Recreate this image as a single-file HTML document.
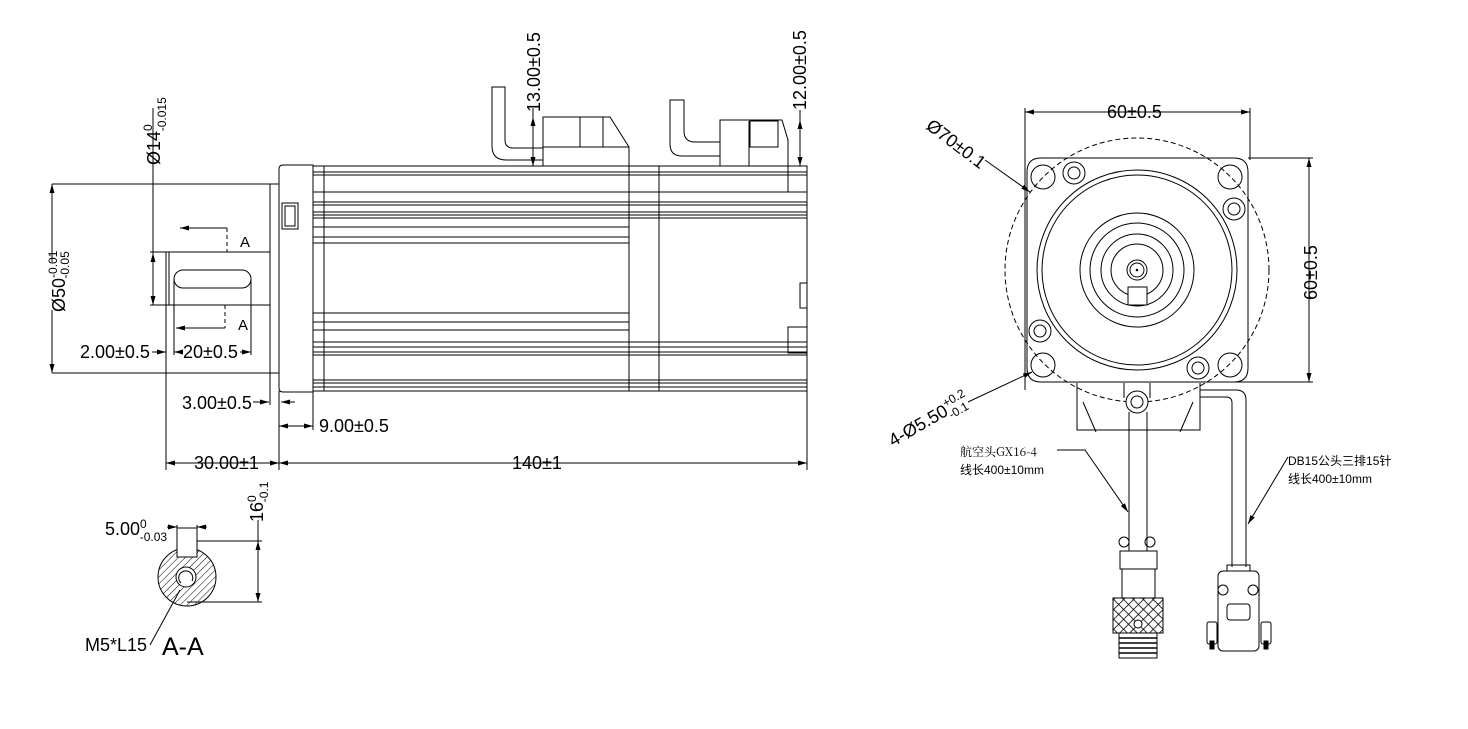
<!DOCTYPE html>
<html><head><meta charset="utf-8"><style>
html,body{margin:0;padding:0;background:#fff;}
svg{display:block;}
text{font-family:"Liberation Sans","Noto Sans CJK SC",sans-serif;fill:#000;}
.cn{font-family:"Noto Serif CJK SC","Liberation Serif",serif;}
</style></head><body>
<svg width="1468" height="729" viewBox="0 0 1468 729" xmlns="http://www.w3.org/2000/svg">
<defs>
<marker id="ar" markerWidth="9" markerHeight="5" refX="9" refY="2.5" orient="auto-start-reverse" markerUnits="userSpaceOnUse"><path d="M0,0 L9,2.5 L0,5 z" fill="#000"/></marker>
<pattern id="hatch" width="5" height="5" patternUnits="userSpaceOnUse" patternTransform="rotate(45)"><line x1="0" y1="0" x2="0" y2="5" stroke="#000" stroke-width="1"/></pattern>
<pattern id="knurl" width="7" height="7" patternUnits="userSpaceOnUse" patternTransform="rotate(45)"><rect width="7" height="7" fill="#fff"/><line x1="0" y1="0" x2="0" y2="7" stroke="#000" stroke-width="1.6"/><line x1="0" y1="0" x2="7" y2="0" stroke="#000" stroke-width="1.6"/></pattern>
</defs>
<g fill="none" stroke="#000" stroke-width="1">
<path d="M283,165 H313 V392 H283 Q279,392 279,388 V169 Q279,165 283,165 Z"/>
<rect x="282" y="203" width="16" height="26"/><rect x="285" y="206" width="10" height="20"/>
<line x1="324" y1="166" x2="324" y2="391"/>
<rect x="313" y="166" width="494" height="225"/>
<line x1="629" y1="166" x2="629" y2="391"/><line x1="659" y1="166" x2="659" y2="391"/>
<g stroke-width="0.9">
<line x1="313" y1="172" x2="807" y2="172"/><line x1="313" y1="175" x2="807" y2="175"/>
<line x1="313" y1="192" x2="807" y2="192"/><line x1="313" y1="202" x2="807" y2="202"/>
<line x1="313" y1="205" x2="807" y2="205"/><line x1="313" y1="212" x2="807" y2="212"/>
<line x1="313" y1="215" x2="807" y2="215"/><line x1="313" y1="218" x2="807" y2="218"/>
<line x1="313" y1="227" x2="629" y2="227"/><line x1="313" y1="237" x2="629" y2="237"/>
<line x1="313" y1="243" x2="629" y2="243"/>
<line x1="313" y1="313" x2="629" y2="313"/><line x1="313" y1="322" x2="629" y2="322"/>
<line x1="313" y1="330" x2="629" y2="330"/><line x1="313" y1="342" x2="807" y2="342"/>
<line x1="313" y1="347" x2="807" y2="347"/><line x1="313" y1="352" x2="807" y2="352"/>
<line x1="313" y1="355" x2="807" y2="355"/><line x1="313" y1="380" x2="807" y2="380"/>
<line x1="313" y1="383" x2="807" y2="383"/><line x1="313" y1="387" x2="807" y2="387"/>
</g>
<rect x="788" y="166" width="19" height="26"/><rect x="788" y="327" width="19" height="26"/>
<rect x="800" y="283" width="7" height="25"/>
<path d="M492,87 H505 V140 Q505,148 513,148 H543 V160 H506 Q492,160 492,146 Z"/>
<path d="M543,117 H610 L629,147 V166 H543 Z"/>
<line x1="543" y1="147" x2="629" y2="147"/><line x1="580" y1="117" x2="580" y2="147"/><line x1="603" y1="117" x2="603" y2="147"/>
<path d="M670,100 H684 V131 Q684,142 695,142 H720 V156 H682 Q670,156 670,144 Z"/>
<path d="M720,120 H782 L788,140 V166 H720 Z"/>
<line x1="720" y1="129" x2="720" y2="166"/><rect x="750" y="121" width="28" height="26"/><line x1="749" y1="121" x2="749" y2="166"/>
<line x1="52" y1="184" x2="279" y2="184"/><line x1="52" y1="373" x2="279" y2="373"/>
<line x1="270" y1="184" x2="270" y2="405"/>
<line x1="150" y1="252" x2="270" y2="252"/><line x1="150" y1="305" x2="270" y2="305"/>
<line x1="166" y1="252" x2="166" y2="470"/><line x1="169" y1="252" x2="169" y2="305"/>
<rect x="174" y="270" width="77" height="18" rx="9"/>
<line x1="174" y1="279" x2="174" y2="355"/><line x1="251" y1="279" x2="251" y2="355"/>
<path d="M227,228 V252" stroke-dasharray="4,3"/><line x1="227" y1="228" x2="180" y2="228" marker-end="url(#ar)"/>
<path d="M225,305 V328" stroke-dasharray="4,3"/><line x1="225" y1="328" x2="176" y2="328" marker-end="url(#ar)"/>
<line x1="153" y1="108" x2="153" y2="305"/>
<line x1="153" y1="262" x2="153" y2="253" marker-end="url(#ar)"/><line x1="153" y1="296" x2="153" y2="305" marker-end="url(#ar)"/>
<line x1="52" y1="262" x2="52" y2="184" marker-end="url(#ar)"/><line x1="52" y1="310" x2="52" y2="373" marker-end="url(#ar)"/>
<line x1="152" y1="352" x2="166" y2="352" marker-end="url(#ar)"/><line x1="183" y1="352" x2="174" y2="352" marker-end="url(#ar)"/>
<line x1="240" y1="352" x2="251" y2="352" marker-end="url(#ar)"/>
<line x1="253" y1="402" x2="269" y2="402" marker-end="url(#ar)"/><line x1="295" y1="402" x2="281" y2="402" marker-end="url(#ar)"/>
<line x1="279" y1="391" x2="279" y2="470"/><line x1="313" y1="391" x2="313" y2="430"/><line x1="807" y1="391" x2="807" y2="470"/>
<line x1="279" y1="426" x2="313" y2="426" marker-start="url(#ar)" marker-end="url(#ar)"/>
<line x1="166" y1="463" x2="279" y2="463" marker-start="url(#ar)" marker-end="url(#ar)"/>
<line x1="279" y1="463" x2="807" y2="463" marker-start="url(#ar)" marker-end="url(#ar)"/>
<line x1="533" y1="108" x2="533" y2="166"/><line x1="533" y1="117" x2="533" y2="128" marker-start="url(#ar)"/><line x1="533" y1="155" x2="533" y2="166" marker-end="url(#ar)"/>
<line x1="800" y1="110" x2="800" y2="166"/><line x1="800" y1="120" x2="800" y2="131" marker-start="url(#ar)"/><line x1="800" y1="155" x2="800" y2="166" marker-end="url(#ar)"/>
<circle cx="187" cy="577" r="29" fill="url(#hatch)"/>
<rect x="177" y="528" width="20" height="29" fill="#fff"/>
<circle cx="186" cy="577" r="10" fill="#fff"/><path d="M181,583 A7,7 0 1 1 192,581"/>
<line x1="197" y1="541" x2="262" y2="541"/><line x1="187" y1="602" x2="262" y2="602"/>
<line x1="258" y1="520" x2="258" y2="602"/><line x1="258" y1="550" x2="258" y2="541" marker-end="url(#ar)"/><line x1="258" y1="593" x2="258" y2="602" marker-end="url(#ar)"/>
<line x1="177" y1="528" x2="177" y2="525"/><line x1="197" y1="528" x2="197" y2="525"/>
<line x1="167" y1="527" x2="177" y2="527" marker-end="url(#ar)"/><line x1="207" y1="527" x2="197" y2="527" marker-end="url(#ar)"/>
<path d="M150,645 L180,590"/>
<path d="M1041,158 H1234 Q1248,158 1248,172 V368 Q1248,382 1234,382 H1041 Q1027,382 1027,368 V172 Q1027,158 1041,158 Z"/>
<circle cx="1137" cy="270" r="132" stroke-dasharray="5,3"/>
<circle cx="1137" cy="270" r="100"/><circle cx="1137" cy="270" r="95"/>
<circle cx="1137" cy="270" r="57"/><circle cx="1137" cy="270" r="47"/><circle cx="1137" cy="270" r="36"/><circle cx="1137" cy="270" r="26"/>
<circle cx="1137" cy="270" r="10"/><circle cx="1137" cy="270" r="7"/><circle cx="1137" cy="270" r="0.8" fill="#000"/>
<rect x="1128" y="287" width="19" height="18" fill="#fff"/>
<circle cx="1043" cy="177" r="12"/><circle cx="1230" cy="177" r="12"/><circle cx="1043" cy="365" r="12"/><circle cx="1230" cy="365" r="12"/>
<circle cx="1074" cy="173" r="11"/><circle cx="1074" cy="173" r="6"/>
<circle cx="1234" cy="209" r="11"/><circle cx="1234" cy="209" r="6"/>
<circle cx="1040" cy="331" r="11"/><circle cx="1040" cy="331" r="6"/>
<circle cx="1198" cy="368" r="11"/><circle cx="1198" cy="368" r="6"/>
<path d="M1077,383 V430 H1200 V383"/><path d="M1083,402 L1096,432 M1193,402 L1180,432"/>
<line x1="1124" y1="383" x2="1124" y2="398"/><line x1="1150" y1="383" x2="1150" y2="398"/>
<circle cx="1137" cy="402" r="11" fill="#fff"/><circle cx="1137" cy="402" r="6"/>
<line x1="1129" y1="412" x2="1129" y2="537"/><line x1="1147" y1="412" x2="1147" y2="537"/>
<path d="M1200,390 H1236 Q1246,390 1246,400 V567 M1200,397 H1226 Q1232,397 1232,403 V567"/>
<line x1="1025" y1="108" x2="1025" y2="390"/><line x1="1250" y1="108" x2="1250" y2="160"/>
<line x1="1025" y1="112" x2="1250" y2="112" marker-start="url(#ar)" marker-end="url(#ar)"/>
<line x1="1248" y1="158" x2="1313" y2="158"/><line x1="1200" y1="382" x2="1313" y2="382"/>
<line x1="1309" y1="158" x2="1309" y2="382" marker-start="url(#ar)" marker-end="url(#ar)"/>
<line x1="985" y1="160" x2="1030" y2="192" marker-end="url(#ar)"/>
<line x1="968" y1="402" x2="1032" y2="372" marker-end="url(#ar)"/>
<path d="M1057,450 H1085 L1128,512" marker-end="url(#ar)"/>
<path d="M1288,457 L1248,524" marker-end="url(#ar)"/>
<line x1="1129" y1="537" x2="1129" y2="551"/><line x1="1147" y1="537" x2="1147" y2="551"/>
<circle cx="1124" cy="542" r="5"/><circle cx="1150" cy="542" r="5"/>
<rect x="1120" y="551" width="37" height="18"/><rect x="1122" y="569" width="33" height="29"/>
<rect x="1113" y="598" width="50" height="35" fill="url(#knurl)"/>
<circle cx="1138" cy="624" r="4" fill="#fff"/>
<rect x="1119" y="633" width="38" height="25"/>
<path d="M1119,638 H1157 M1119,643 H1157 M1119,648 H1157 M1119,653 H1157" stroke-width="1.5"/>
<rect x="1227" y="565" width="23" height="6"/>
<rect x="1218" y="571" width="41" height="80" rx="5"/>
<circle cx="1223" cy="590" r="5"/><circle cx="1253" cy="590" r="5"/>
<rect x="1227" y="604" width="23" height="16" rx="3"/>
<rect x="1207" y="622" width="10" height="22" rx="2"/><rect x="1261" y="622" width="10" height="22" rx="2"/>
<rect x="1210" y="641" width="4" height="8" fill="#000"/><rect x="1264" y="641" width="4" height="8" fill="#000"/>
</g>
<g font-size="18">
<text x="240" y="247" font-size="15">A</text><text x="238" y="330" font-size="15">A</text>
<text x="80" y="358">2.00±0.5</text><text x="183" y="358">20±0.5</text>
<text x="182" y="409">3.00±0.5</text><text x="319" y="432">9.00±0.5</text>
<text x="194" y="469">30.00±1</text><text x="512" y="469">140±1</text>
<text transform="translate(160,165) rotate(-90)">Ø14<tspan font-size="12" dy="-8">0</tspan><tspan font-size="12" dx="-7" dy="14">-0.015</tspan></text>
<text transform="translate(65,312) rotate(-90)">Ø50<tspan font-size="12" dy="-8">-0.01</tspan><tspan font-size="12" dx="-28" dy="12">-0.05</tspan></text>
<text transform="translate(540,112) rotate(-90)">13.00±0.5</text>
<text transform="translate(806,110) rotate(-90)">12.00±0.5</text>
<text x="105" y="535">5.00<tspan font-size="12" dy="-7">0</tspan><tspan font-size="12" dx="-7" dy="13">-0.03</tspan></text>
<text transform="translate(263,522) rotate(-90)">16<tspan font-size="12" dy="-7">0</tspan><tspan font-size="12" dx="-7" dy="12">-0.1</tspan></text>
<text x="85" y="651">M5*L15</text><text x="162" y="655" font-size="25">A-A</text>
<text x="1107" y="118">60±0.5</text>
<text transform="translate(1317,300) rotate(-90)">60±0.5</text>
<text transform="translate(925,128) rotate(37)">Ø70±0.1</text>
<text transform="translate(893,447) rotate(-30)">4-Ø5.50<tspan font-size="12" dy="-8">+0.2</tspan><tspan font-size="12" dx="-24" dy="13">-0.1</tspan></text>
</g>
<g font-size="12">
<text class="cn" x="960" y="456">航空头GX16-4</text><text x="960" y="474">线长400±10mm</text>
<text x="1288" y="465">DB15公头三排15针</text><text x="1288" y="483">线长400±10mm</text>
</g>
</svg>
</body></html>
